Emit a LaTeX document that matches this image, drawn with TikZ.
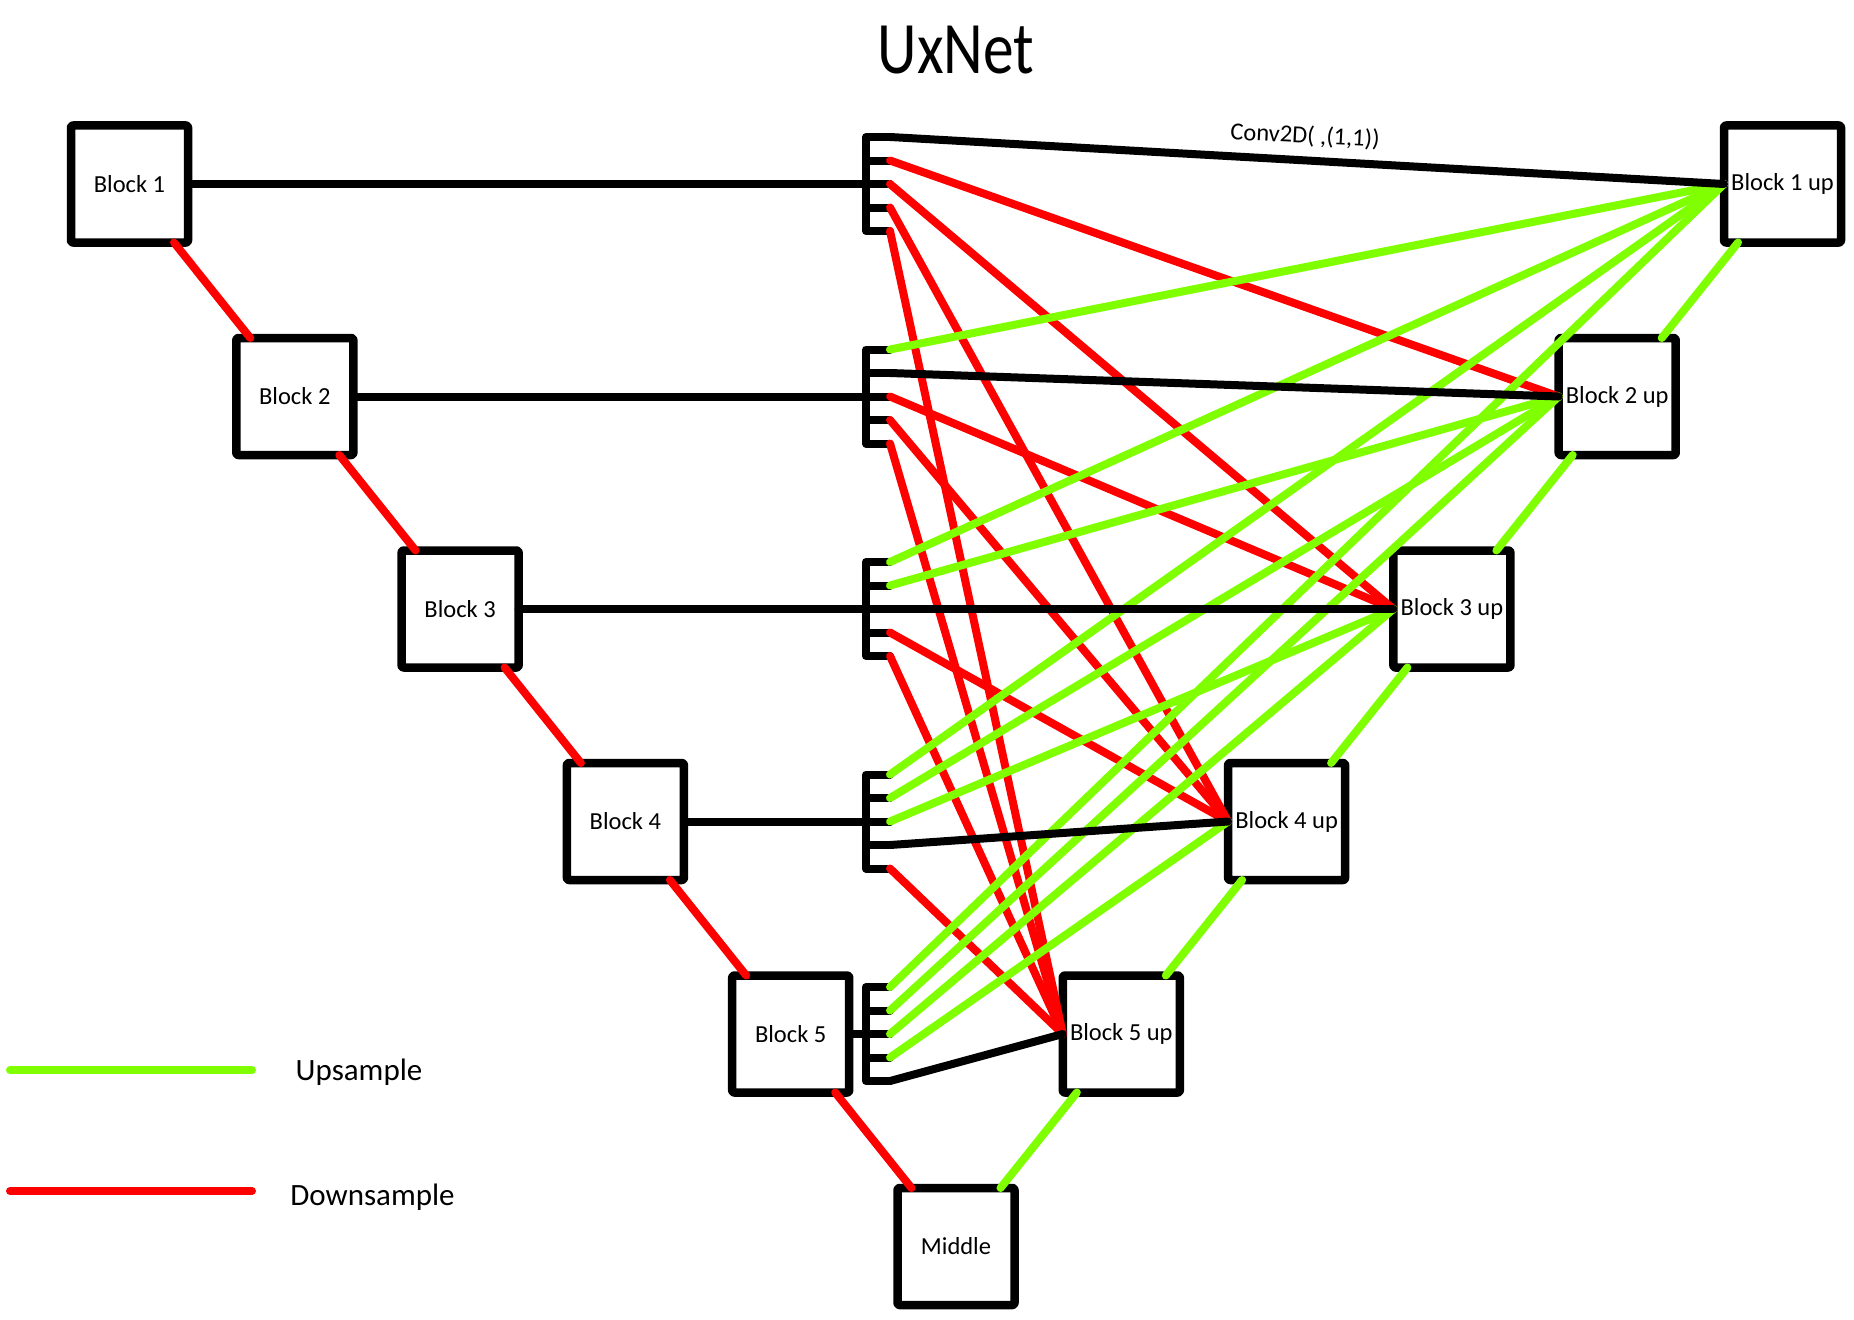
\documentclass[tikz,border=0pt]{standalone}
\usepackage{fontspec}
\setmainfont{Carlito}
\usetikzlibrary{calc}
\definecolor{upg}{RGB}{128,255,0}
\definecolor{downr}{RGB}{255,0,0}
\begin{document}
\begin{tikzpicture}[x=1pt,y=-1pt,
  blk/.style={draw=black, line width=8.5pt, minimum size=117pt, inner sep=0pt, outer sep=0pt,
    rounded corners=2pt, line join=round, font=\fontsize{24.5}{28}\selectfont},
  upl/.style={draw=upg, line width=8pt, line cap=round},
  downl/.style={draw=downr, line width=8pt, line cap=round},
  skipl/.style={draw=black, line width=8pt, line cap=round},
  combl/.style={draw=black, line width=8pt, line cap=round, line join=round},
  lbl/.style={inner sep=0pt}
]
\useasboundingbox (0,0) rectangle (1854,1319);
\fill[white] (0,0) rectangle (1854,1319);

% title
\node[lbl, font=\fontsize{74}{80}\selectfont, xscale=0.83] (title) at (956,50) {UxNet};

% encoder blocks
\node[blk] (b1) at (129.5,184) {Block 1};
\node[blk] (b2) at (294.8,396.5) {Block 2};
\node[blk] (b3) at (460.1,609) {Block 3};
\node[blk] (b4) at (625.4,821.5) {Block 4};
\node[blk] (b5) at (790.7,1034) {Block 5};
\node[blk] (mid) at (956,1246.5) {Middle};
% decoder blocks
\node[blk] (u5) at (1121.3,1034) {Block 5 up};
\node[blk] (u4) at (1286.6,821.5) {Block 4 up};
\node[blk] (u3) at (1451.9,609) {Block 3 up};
\node[blk] (u2) at (1617.2,396.5) {Block 2 up};
\node[blk] (u1) at (1782.5,184) {Block 1 up};

% combs
\foreach \i/\y in {1/184,2/396.5,3/609,4/821.5,5/1034} {
  \foreach \k in {1,...,5} {
    \coordinate (c\i\k) at (890,{\y+(\k-3)*23.5});
    \coordinate (s\i\k) at (866,{\y+(\k-3)*23.5});
  }
  \draw[combl] (c\i1) -- (s\i1) -- (s\i5) -- (c\i5);
  \draw[combl] (s\i2) -- (c\i2);
  \draw[combl] (s\i3) -- (c\i3);
  \draw[combl] (s\i4) -- (c\i4);
}

% horizontal links into combs
\draw[skipl] (b1.east) -- (c13);
\draw[skipl] (b2.east) -- (c23);
\draw[skipl] (b4.east) -- (c43);
\draw[skipl] (b5.east) -- (c53);

% downsample chain
\draw[downl] ($(b1.south east)+(-14,0)$) -- ($(b2.north west)+(14,0)$);
\draw[downl] ($(b2.south east)+(-14,0)$) -- ($(b3.north west)+(14,0)$);
\draw[downl] ($(b3.south east)+(-14,0)$) -- ($(b4.north west)+(14,0)$);
\draw[downl] ($(b4.south east)+(-14,0)$) -- ($(b5.north west)+(14,0)$);
\draw[downl] ($(b5.south east)+(-14,0)$) -- ($(mid.north west)+(14,0)$);
% upsample chain
\draw[upl] ($(mid.north east)+(-14,0)$) -- ($(u5.south west)+(14,0)$);
\draw[upl] ($(u5.north east)+(-14,0)$) -- ($(u4.south west)+(14,0)$);
\draw[upl] ($(u4.north east)+(-14,0)$) -- ($(u3.south west)+(14,0)$);
\draw[upl] ($(u3.north east)+(-14,0)$) -- ($(u2.south west)+(14,0)$);
\draw[upl] ($(u2.north east)+(-14,0)$) -- ($(u1.south west)+(14,0)$);

% red cross links
\draw[downl] (c12) -- (u2.west);
\draw[downl] (c13) -- (u3.west);
\draw[downl] (c14) -- (u4.west);
\draw[downl] (c15) -- (u5.west);
\draw[downl] (c23) -- (u3.west);
\draw[downl] (c24) -- (u4.west);
\draw[downl] (c25) -- (u5.west);
\draw[downl] (c34) -- (u4.west);
\draw[downl] (c35) -- (u5.west);
\draw[downl] (c45) -- (u5.west);

% green cross links
\draw[upl] (u1.west) -- (c21);
\draw[upl] (u1.west) -- (c31);
\draw[upl] (u2.west) -- (c32);
\draw[upl] (u1.west) -- (c41);
\draw[upl] (u2.west) -- (c42);
\draw[upl] (u3.west) -- (c43);
\draw[upl] (u1.west) -- (c51);
\draw[upl] (u2.west) -- (c52);
\draw[upl] (u3.west) -- (c53);
\draw[upl] (u4.west) -- (c54);

% black skip links
\draw[skipl] (c11) -- (u1.west);
\draw[skipl] (c22) -- (u2.west);
\draw[skipl] (b3.east) -- (u3.west);
\draw[skipl] (c44) -- (u4.west);
\draw[skipl] (c55) -- (u5.west);

\node[lbl, font=\fontsize{24.5}{28}\selectfont, rotate=-3] (conv) at (1305,136) {Conv2D( ,(1,1))};

% legend
\coordinate (lgu1) at (10,1070);
\coordinate (lgu2) at (252,1070);
\coordinate (lgd1) at (10,1191);
\coordinate (lgd2) at (252,1191);
\draw[upl] (lgu1) -- (lgu2);
\draw[downl] (lgd1) -- (lgd2);
\node[lbl, anchor=base, font=\fontsize{31}{36}\selectfont] (uptxt) at (359,1080) {Upsample};
\node[lbl, anchor=base, font=\fontsize{31}{36}\selectfont] (dntxt) at (372.5,1205) {Downsample};
\end{tikzpicture}
\end{document}
